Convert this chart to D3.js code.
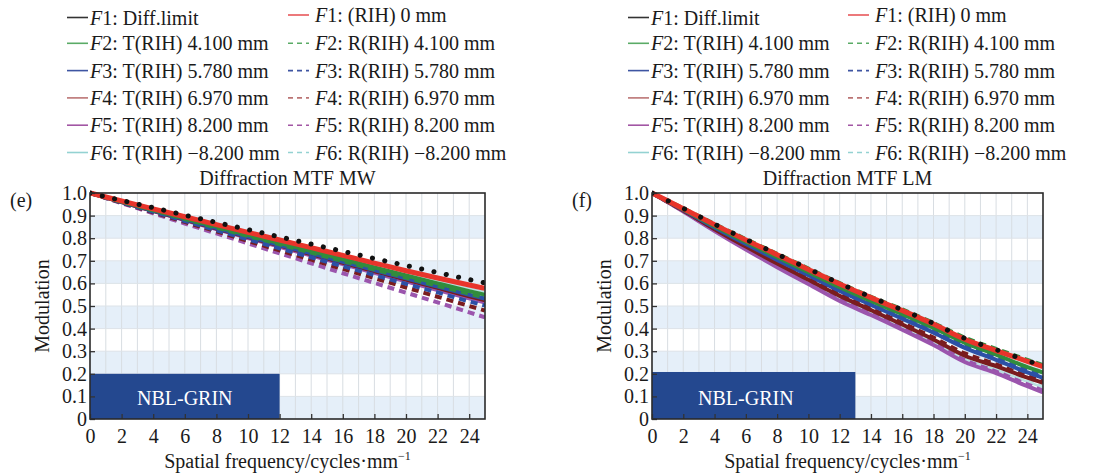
<!DOCTYPE html>
<html>
<head>
<meta charset="utf-8">
<script src="https://cdn.jsdelivr.net/npm/d3@7"></script>
<style>
  body { margin: 0; background: #fff; }
  svg text { font-family: "Liberation Serif", "Times New Roman", serif; fill: #1a1a1a; }
</style>
</head>
<body>
<svg id="chart" width="1104" height="475"></svg>
<script>
// spatial frequency samples (cycles/mm)
const freqs = [0, 2, 4, 6, 8, 10, 12, 14, 16, 18, 20, 22, 24, 25];

// panel (e) Diffraction MTF MW
const mwDiff = [1.0, 0.967, 0.935, 0.902, 0.870, 0.838, 0.806, 0.774, 0.742, 0.710, 0.679, 0.648, 0.617, 0.602];
const mwF1   = [1.0, 0.965, 0.930, 0.895, 0.860, 0.826, 0.792, 0.758, 0.724, 0.690, 0.656, 0.624, 0.593, 0.578];
const mwF2T  = [1.0, 0.962, 0.925, 0.888, 0.851, 0.815, 0.779, 0.743, 0.707, 0.671, 0.635, 0.600, 0.566, 0.550];
const mwF2R  = [1.0, 0.961, 0.923, 0.885, 0.847, 0.810, 0.773, 0.736, 0.699, 0.662, 0.626, 0.590, 0.555, 0.538];
const mwF3T  = [1.0, 0.961, 0.922, 0.884, 0.845, 0.807, 0.770, 0.733, 0.696, 0.659, 0.622, 0.586, 0.550, 0.533];
const mwF3R  = [1.0, 0.958, 0.917, 0.876, 0.835, 0.795, 0.755, 0.715, 0.676, 0.637, 0.598, 0.560, 0.520, 0.502];
const mwF4T  = [1.0, 0.960, 0.921, 0.882, 0.843, 0.805, 0.767, 0.729, 0.691, 0.654, 0.617, 0.580, 0.543, 0.525];
const mwF4R  = [1.0, 0.957, 0.914, 0.872, 0.830, 0.788, 0.746, 0.705, 0.664, 0.623, 0.582, 0.541, 0.500, 0.480];
const mwF5T  = [1.0, 0.960, 0.920, 0.880, 0.840, 0.801, 0.762, 0.723, 0.685, 0.647, 0.609, 0.571, 0.534, 0.516];
const mwF5R  = [1.0, 0.955, 0.910, 0.865, 0.821, 0.777, 0.733, 0.689, 0.645, 0.602, 0.559, 0.516, 0.472, 0.450];
const mwF6T  = [1.0, 0.963, 0.927, 0.891, 0.855, 0.820, 0.785, 0.750, 0.715, 0.680, 0.645, 0.611, 0.578, 0.562];
const mwF6R  = [1.0, 0.958, 0.917, 0.876, 0.835, 0.795, 0.755, 0.715, 0.676, 0.637, 0.598, 0.560, 0.520, 0.502];

// panel (f) Diffraction MTF LM
const lmDiff = [1.0, 0.932, 0.862, 0.795, 0.730, 0.665, 0.600, 0.540, 0.483, 0.423, 0.357, 0.307, 0.258, 0.235];
const lmF1   = [1.0, 0.930, 0.860, 0.792, 0.727, 0.662, 0.597, 0.537, 0.480, 0.420, 0.353, 0.303, 0.255, 0.232];
const lmF2T  = [1.0, 0.927, 0.853, 0.783, 0.716, 0.650, 0.583, 0.522, 0.464, 0.403, 0.337, 0.285, 0.229, 0.205];
const lmF2R  = [1.0, 0.932, 0.863, 0.796, 0.731, 0.666, 0.601, 0.541, 0.485, 0.425, 0.360, 0.310, 0.262, 0.238];
const lmF3T  = [1.0, 0.925, 0.847, 0.774, 0.704, 0.636, 0.567, 0.505, 0.444, 0.382, 0.315, 0.262, 0.206, 0.182];
const lmF3R  = [1.0, 0.927, 0.850, 0.778, 0.709, 0.641, 0.573, 0.511, 0.452, 0.390, 0.323, 0.270, 0.214, 0.190];
const lmF4T  = [1.0, 0.922, 0.840, 0.763, 0.688, 0.616, 0.545, 0.482, 0.418, 0.352, 0.280, 0.234, 0.183, 0.160];
const lmF4R  = [1.0, 0.923, 0.843, 0.767, 0.693, 0.622, 0.551, 0.488, 0.425, 0.360, 0.290, 0.242, 0.190, 0.167];
const lmF5T  = [1.0, 0.918, 0.832, 0.750, 0.672, 0.597, 0.522, 0.460, 0.395, 0.327, 0.252, 0.203, 0.145, 0.118];
const lmF5R  = [1.0, 0.920, 0.835, 0.754, 0.677, 0.602, 0.528, 0.466, 0.402, 0.335, 0.260, 0.210, 0.153, 0.126];
const lmF6T  = [1.0, 0.920, 0.836, 0.756, 0.680, 0.606, 0.533, 0.470, 0.406, 0.340, 0.266, 0.218, 0.165, 0.140];
const lmF6R  = [1.0, 0.921, 0.838, 0.759, 0.684, 0.610, 0.537, 0.474, 0.411, 0.345, 0.271, 0.223, 0.170, 0.145];

// legend text
const fieldNames = ['1', '2', '3', '4', '5', '6'];
const tLabels = [': Diff.limit', ': T(RIH) 4.100 mm', ': T(RIH) 5.780 mm', ': T(RIH) 6.970 mm', ': T(RIH) 8.200 mm', ': T(RIH) \u22128.200 mm'];
const rLabels = [': (RIH) 0 mm', ': R(RIH) 4.100 mm', ': R(RIH) 5.780 mm', ': R(RIH) 6.970 mm', ': R(RIH) 8.200 mm', ': R(RIH) \u22128.200 mm'];

const xTicks = [0, 2, 4, 6, 8, 10, 12, 14, 16, 18, 20, 22, 24];
const yTicks = [0, 0.1, 0.2, 0.3, 0.4, 0.5, 0.6, 0.7, 0.8, 0.9, 1.0];
const bands = [[0, 0.1], [0.2, 0.3], [0.4, 0.5], [0.6, 0.7], [0.8, 0.9]];

const colors = ['#e8342b', '#318c3d', '#2c50a6', '#7a1c1e', '#9b55ad', '#b9e0e0'];
const legendColors = ['#e8585a', '#5aab66', '#3e55a2', '#bb7474', '#a256a4', '#94d2d2'];

const svg = d3.select('#chart');
const plotTop = 193, plotBottom = 419;
const fs = 20;

function drawPanel(p) {
    const x = d3.scaleLinear().domain([0, 25]).range([p.left, p.right]);
    const y = d3.scaleLinear().domain([0, 1]).range([plotBottom, plotTop]);
    const g = svg.append('g');

    g.selectAll('.band')
        .data(bands)
        .enter()
        .append('rect')
        .attr('x', x(0))
        .attr('width', x(25) - x(0))
        .attr('y', d => y(d[1]))
        .attr('height', d => y(d[0]) - y(d[1]))
        .attr('fill', '#e5eff9');

    g.selectAll('.vgrid')
        .data(d3.range(1, 25))
        .enter()
        .append('line')
        .attr('x1', d => x(d)).attr('x2', d => x(d))
        .attr('y1', plotTop).attr('y2', plotBottom)
        .attr('stroke', '#d8dde2').attr('stroke-width', 1);

    g.selectAll('.hgrid')
        .data(yTicks.slice(1, 10))
        .enter()
        .append('line')
        .attr('x1', x(0)).attr('x2', x(25))
        .attr('y1', d => y(d)).attr('y2', d => y(d))
        .attr('stroke', '#dde3e8').attr('stroke-width', 1);

    // NBL-GRIN box
    g.append('rect')
        .attr('x', x(0))
        .attr('y', y(p.boxTop))
        .attr('width', x(p.boxEnd) - x(0))
        .attr('height', y(0) - y(p.boxTop))
        .attr('fill', '#24488f');
    g.append('text')
        .attr('x', x(6))
        .attr('y', y(0.093))
        .attr('dy', '0.35em')
        .attr('text-anchor', 'middle')
        .attr('font-size', fs)
        .style('fill', '#fff')
        .text('NBL-GRIN');

    const clipId = 'clip-' + p.tag;
    svg.append('clipPath').attr('id', clipId)
        .append('rect')
        .attr('x', x(0)).attr('y', plotTop - 3)
        .attr('width', x(25) - x(0)).attr('height', plotBottom - plotTop + 3);

    const line = d3.line()
        .x((d, i) => x(freqs[i]))
        .y(d => y(d))
        .curve(d3.curveMonotoneX);

    const curves = g.append('g').attr('clip-path', `url(#${clipId})`);
    p.series.forEach(s => {
        curves.append('path')
            .datum(s.values)
            .attr('d', line)
            .attr('fill', 'none')
            .attr('stroke', s.color)
            .attr('stroke-width', s.width)
            .attr('stroke-dasharray', s.dash || null)
            .attr('stroke-linecap', s.cap || 'butt');
    });

    // axes with inward ticks
    const yAxis = d3.axisLeft(y).tickValues(yTicks)
        .tickFormat(d => d === 0 ? '0' : d3.format('.1f')(d))
        .tickSizeInner(-5).tickSizeOuter(0).tickPadding(3);
    const yg = g.append('g').attr('transform', `translate(${x(0)},0)`).call(yAxis);

    const xAxis = d3.axisBottom(x).tickValues(xTicks)
        .tickSizeInner(-5).tickSizeOuter(0).tickPadding(10);
    const xg = g.append('g').attr('transform', `translate(0,${plotBottom})`).call(xAxis);

    [yg, xg].forEach(a => {
        a.select('.domain').remove();
        a.attr('font-family', null).attr('font-size', fs);
        a.selectAll('line').attr('stroke', '#333').attr('stroke-width', 1.3);
        a.selectAll('text').style('fill', '#1a1a1a');
    });

    g.append('rect')
        .attr('x', x(0)).attr('y', plotTop)
        .attr('width', x(25) - x(0)).attr('height', plotBottom - plotTop)
        .attr('fill', 'none').attr('stroke', '#2a2a2a').attr('stroke-width', 1.6);

    const cx = (x(0) + x(25)) / 2;
    g.append('text').attr('x', cx).attr('y', 185)
        .attr('text-anchor', 'middle').attr('font-size', fs).text(p.title);

    const xt = g.append('text').attr('x', cx).attr('y', 468)
        .attr('text-anchor', 'middle').attr('font-size', fs);
    xt.append('tspan').text('Spatial frequency/cycles\u00b7mm');
    xt.append('tspan').attr('font-size', 12).attr('dy', -8).text('\u22121');

    g.append('text')
        .attr('transform', `translate(${p.left - 48},${(plotTop + plotBottom) / 2}) rotate(-90)`)
        .attr('text-anchor', 'middle').attr('dy', '0.35em')
        .attr('font-size', fs).text('Modulation');

    g.append('text').attr('x', p.left - 80).attr('y', 207)
        .attr('font-size', fs).text(p.label);

    // legend
    const leg = g.append('g');
    fieldNames.forEach((f, i) => {
        const ry = i === 0 ? 17.5 : 16 + i * 27.3;
        leg.append('line')
            .attr('x1', p.legX1).attr('x2', p.legX1 + 21)
            .attr('y1', ry).attr('y2', ry)
            .attr('stroke', i === 0 ? '#333' : legendColors[i])
            .attr('stroke-width', 1.6);
        const t1 = leg.append('text').attr('x', p.legX1 + 23).attr('y', ry)
            .attr('dy', '0.35em').attr('font-size', fs);
        t1.append('tspan').attr('font-style', 'italic').text('F');
        t1.append('tspan').text(f + tLabels[i]);

        const ry2 = i === 0 ? 15 : ry;
        leg.append('line')
            .attr('x1', p.legX2).attr('x2', p.legX2 + 21)
            .attr('y1', ry2).attr('y2', ry2)
            .attr('stroke', legendColors[i])
            .attr('stroke-width', 1.6)
            .attr('stroke-dasharray', i === 0 ? null : '5,4');
        const t2 = leg.append('text').attr('x', p.legX2 + 27).attr('y', ry2)
            .attr('dy', '0.35em').attr('font-size', fs);
        t2.append('tspan').attr('font-style', 'italic').text('F');
        t2.append('tspan').text(f + rLabels[i]);
    });
}

function buildSeries(diff, tList, rList, dotGap) {
    const list = [];
    // draw outer fields first so F1 and the limit stay on top
    for (let i = 5; i >= 1; i--) {
        list.push({ values: rList[i], color: colors[i], width: i === 5 ? 2.5 : 4, dash: '7,5' });
        list.push({ values: tList[i], color: colors[i], width: i === 5 ? 2.5 : 4 });
    }
    list.push({ values: tList[0], color: colors[0], width: 5 });
    list.push({ values: diff, color: '#111', width: 5, dash: '0.1,' + dotGap, cap: 'round' });
    return list;
}

drawPanel({
    tag: 'mw', left: 90, right: 485, title: 'Diffraction MTF MW', label: '(e)',
    boxEnd: 12, boxTop: 0.2, legX1: 67, legX2: 288,
    series: buildSeries(mwDiff,
        [mwF1, mwF2T, mwF3T, mwF4T, mwF5T, mwF6T],
        [mwF1, mwF2R, mwF3R, mwF4R, mwF5R, mwF6R], 12.5)
});

drawPanel({
    tag: 'lm', left: 652, right: 1043, title: 'Diffraction MTF LM', label: '(f)',
    boxEnd: 13, boxTop: 0.208, legX1: 628, legX2: 848,
    series: buildSeries(lmDiff,
        [lmF1, lmF2T, lmF3T, lmF4T, lmF5T, lmF6T],
        [lmF1, lmF2R, lmF3R, lmF4R, lmF5R, lmF6R], 18)
});
</script>
</body>
</html>
